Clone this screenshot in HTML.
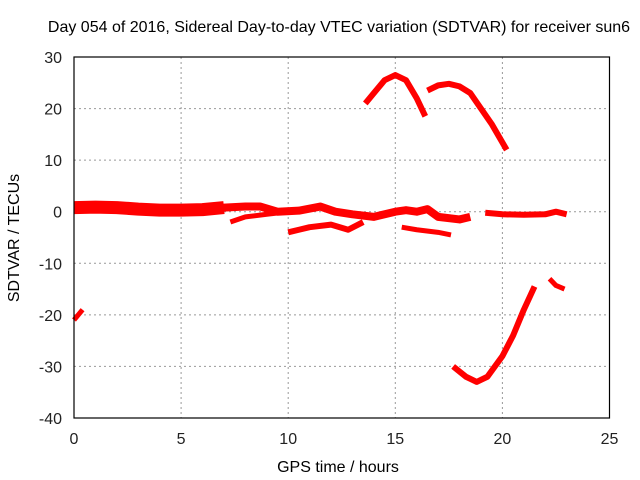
<!DOCTYPE html>
<html><head><meta charset="utf-8"><style>
body{margin:0;background:#fff}
svg{display:block;font-family:"Liberation Sans",sans-serif}
</style></head><body>
<svg id="chart" width="640" height="480">
<text x="339" y="32" text-anchor="middle" font-size="16" fill="#000">Day 054 of 2016, Sidereal Day-to-day VTEC variation (SDTVAR) for receiver sun6</text>
<text x="338" y="472" text-anchor="middle" font-size="16" fill="#000">GPS time / hours</text>
<text transform="translate(19,238) rotate(-90)" text-anchor="middle" font-size="16" fill="#000">SDTVAR / TECUs</text>
<g id="grid"></g>
<g id="ticks"></g>
<g id="series"></g>
<rect x="74" y="57" width="535.5" height="361" fill="none" stroke="#000" stroke-width="1.2"/>
</svg>
<script>
const xTicks=[0,5,10,15,20,25];
const yTicks=[30,20,10,0,-10,-20,-30,-40];
const bandStart=[[0,0.8],[1,0.9],[2,0.8],[3,0.5],[4,0.3],[5,0.3],[6,0.4],[7,0.8]];
const mainBand=[[6.5,0.6],[7,0.8],[8,1],[8.7,1],[9.5,0],[10.5,0.2],[11.5,1],[12.2,0],[13,-0.5],[14,-1],[15,0],[15.5,0.3],[16,0],[16.5,0.5],[17,-1],[18,-1.5],[18.5,-1]];
const bandRight=[[19.2,-0.2],[20,-0.5],[21,-0.6],[22,-0.5],[22.5,0],[23,-0.5]];
const seg2=[[7.3,-2],[8,-1],[9,-0.5],[10,0]];
const seg3=[[10,-4],[10.5,-3.5],[11,-3],[12,-2.5],[12.8,-3.5],[13.5,-2]];
const seg4=[[15.3,-3],[16,-3.5],[17,-4],[17.6,-4.5]];
const arc1=[[13.6,21],[14,23],[14.5,25.5],[15,26.5],[15.5,25.5],[16,22],[16.4,18.5]];
const arc2=[[16.5,23.5],[17,24.5],[17.5,24.8],[18,24.3],[18.5,23],[19,20],[19.5,17],[20.2,12]];
const lowArc=[[17.7,-30],[18.3,-32],[18.8,-33],[19.3,-32],[20,-28],[20.5,-24],[21,-19],[21.5,-14.5]];
const seg8=[[22.2,-13],[22.5,-14.3],[22.9,-15]];
const seg9=[[0,-21],[0.4,-19]];
const NS="http://www.w3.org/2000/svg";
const X=v=>74+v*(535.5/25);
const Y=v=>57+(30-v)*(361/70);
function mk(t,a,p){const e=document.createElementNS(NS,t);for(const k in a)e.setAttribute(k,a[k]);p.appendChild(e);return e;}
const grid=document.getElementById('grid'),ticks=document.getElementById('ticks'),ser=document.getElementById('series');
xTicks.forEach(t=>{
  if(t>0&&t<25){const l=mk('line',{x1:X(t),x2:X(t),y1:57,y2:418,stroke:'#999','stroke-dasharray':'2,3'},grid);
  
  }
  const tx=mk('text',{x:X(t),y:444,'text-anchor':'middle','font-size':16,fill:'#222'},ticks);tx.textContent=t;
  
  
});
yTicks.forEach(t=>{
  if(t<30&&t>-40){const l=mk('line',{x1:74,x2:609.5,y1:Y(t),y2:Y(t),stroke:'#999','stroke-dasharray':'2,3'},grid);
  
  }
  const tx=mk('text',{x:62,y:Y(t)+6,'text-anchor':'end','font-size':16,fill:'#222'},ticks);tx.textContent=t;
  
  
});
function draw(arr,w,name){
  const p=mk('polyline',{points:arr.map(d=>X(d[0])+','+Y(d[1])).join(' '),fill:'none',stroke:'#f00','stroke-width':w,'stroke-linejoin':'round'},ser);
  
  
}
draw(bandStart,13,'series-band-start');
draw(mainBand,8,'series-main-band');
draw(bandRight,6,'series-band-right');
draw(seg2,5,'series-segment-2');
draw(seg3,6,'series-segment-3');
draw(seg4,5,'series-segment-4');
draw(arc1,6,'series-upper-arc-1');
draw(arc2,6,'series-upper-arc-2');
draw(lowArc,6,'series-lower-arc');
draw(seg8,5,'series-segment-8');
draw(seg9,5,'series-segment-9');
</script>
</body></html>
